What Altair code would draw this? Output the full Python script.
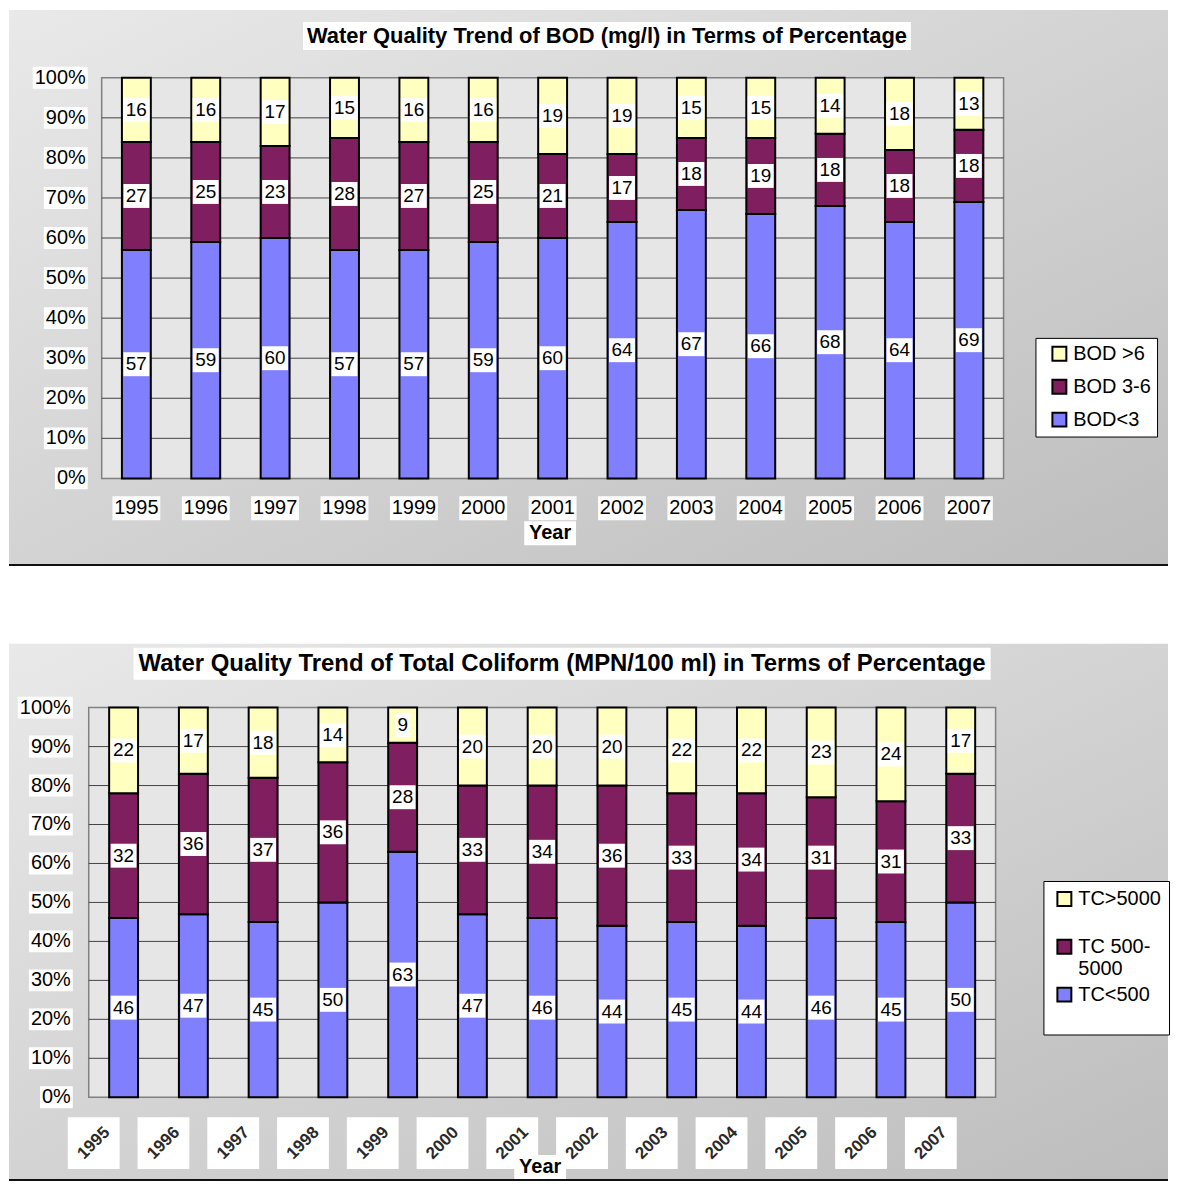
import altair as alt
import pandas as pd

# ---------------- data ----------------
years = ["1995", "1996", "1997", "1998", "1999", "2000", "2001",
         "2002", "2003", "2004", "2005", "2006", "2007"]

bod_series = ["BOD<3", "BOD 3-6", "BOD >6"]          # bottom -> top
bod_lt3 = [57, 59, 60, 57, 57, 59, 60, 64, 67, 66, 68, 64, 69]
bod_3_6 = [27, 25, 23, 28, 27, 25, 21, 17, 18, 19, 18, 18, 18]
bod_gt6 = [16, 16, 17, 15, 16, 16, 19, 19, 15, 15, 14, 18, 13]

tc_series = ["TC<500", "TC 500-5000", "TC>5000"]     # bottom -> top
tc_lt500 = [46, 47, 45, 50, 63, 47, 46, 44, 45, 44, 46, 45, 50]
tc_500_5000 = [32, 36, 37, 36, 28, 33, 34, 36, 33, 34, 31, 31, 33]
tc_gt5000 = [22, 17, 18, 14, 9, 20, 20, 20, 22, 22, 23, 24, 17]

y_ticks = [0, 10, 20, 30, 40, 50, 60, 70, 80, 90, 100]
y_tick_labels = ["0%", "10%", "20%", "30%", "40%", "50%", "60%", "70%", "80%", "90%", "100%"]

title_bod = "Water Quality Trend of BOD (mg/l) in Terms of Percentage"
title_tc = "Water Quality Trend of Total Coliform (MPN/100 ml) in Terms of Percentage"
x_title = "Year"

# ---------------- style ----------------
FONT = "Liberation Sans"
BLUE, MAROON, YELLOW = "#8080FF", "#7F1F5F", "#FFFFC0"
grad = alt.LinearGradient(
    gradient="linear",
    stops=[alt.GradientStop(color="#e9e9e9", offset=0),
           alt.GradientStop(color="#bdbdbd", offset=1)],
    x1=0, y1=0, x2=1, y2=1,
)


def long_table(series, arrays):
    rows = []
    for k, (name, vals) in enumerate(zip(series, arrays)):
        for i, (yr, v) in enumerate(zip(years, vals)):
            rows.append({"year": yr, "series": name, "value": v, "order": k, "i": i})
    df = pd.DataFrame(rows).sort_values(["i", "order"])
    df["top"] = df.groupby("year")["value"].cumsum()
    df["mid"] = df["top"] - df["value"] / 2
    return df


def box_path(half_w, half_h, dx=0):
    return (f"M{dx - half_w},{-half_h}L{dx + half_w},{-half_h}"
            f"L{dx + half_w},{half_h}L{dx - half_w},{half_h}Z")


def make_panel(df, series, title, x0, pw, h, c):
    """x0: left edge of plot area inside the view, pw: plot width"""
    w = x0 + pw
    one = pd.DataFrame({"t": [title]})
    onex = pd.DataFrame({"t": [x_title]})
    ticks = pd.DataFrame({"v": y_ticks, "label": y_tick_labels})
    grid = ticks[(ticks.v > 0) & (ticks.v < 100)]
    yrs = pd.DataFrame({"year": years})

    xsc = alt.Scale(domain=years, paddingInner=0, paddingOuter=0, range=[x0, w])
    ysc = alt.Scale(domain=[0, 100], nice=False)

    panel = alt.Chart(one).mark_rect(fill=grad).encode(
        x=alt.value(c["px0"]), x2=alt.value(c["px1"]),
        y=alt.value(c["py0"]), y2=alt.value(c["py1"]))
    border = alt.Chart(one).mark_rule(color="#111111", strokeWidth=2).encode(
        x=alt.value(c["px0"]), x2=alt.value(c["px1"]), y=alt.value(c["py1"]))
    plotfill = alt.Chart(one).mark_rect(fill="#e6e6e6", stroke="#808080", strokeWidth=1.5).encode(
        x=alt.value(x0), x2=alt.value(w), y=alt.value(0), y2=alt.value(h))

    gridl = alt.Chart(grid).mark_rule(color="#444444", strokeWidth=1).encode(
        x=alt.value(x0), x2=alt.value(w),
        y=alt.Y("v:Q", scale=ysc, axis=None))

    xaxis = alt.Axis(labels=False, title=None, ticks=True, tickBand="extent", tickSize=6,
                     tickColor="black", domainColor="black", domainWidth=1.5, grid=False, zindex=1)
    yaxis = alt.Axis(labels=False, title=None, ticks=True, tickSize=6, values=y_ticks,
                     tickColor="black", domainColor="black", domainWidth=1.5, grid=False, zindex=1,
                     offset=-x0)

    leg = alt.Legend(orient="none", legendX=c["lx"], legendY=c["ly"], title=None,
                     fillColor="white", strokeColor="black", padding=c["lpad"],
                     symbolType="square", symbolSize=196, symbolStrokeColor="black",
                     symbolStrokeWidth=2, symbolOpacity=1, symbolOffset=c["lsymoff"],
                     labelFont=FONT, labelFontSize=20, labelColor="black",
                     labelOffset=4, labelLimit=300, rowPadding=c["lrow"],
                     labelExpr=c["lexpr"])

    bars = alt.Chart(df).mark_bar(size=29, stroke="black", strokeWidth=2).encode(
        x=alt.X("year:O", scale=xsc, axis=xaxis),
        y=alt.Y("value:Q", stack="zero", scale=ysc, axis=yaxis),
        color=alt.Color("series:N",
                        scale=alt.Scale(domain=series[::-1], range=[YELLOW, MAROON, BLUE]),
                        legend=leg),
        order=alt.Order("order:Q", sort="ascending"),
    )

    lbox = alt.Chart(df).transform_calculate(
        hw="length(toString(datum.value)) * 5.5 + 2",
        path="'M' + (-datum.hw) + ',-12L' + datum.hw + ',-12L' + datum.hw + ',12L' + (-datum.hw) + ',12Z'",
    ).mark_point(filled=True, fill="white", opacity=1, strokeWidth=0, size=4).encode(
        x=alt.X("year:O", scale=xsc, axis=None),
        y=alt.Y("mid:Q", scale=ysc, axis=None),
        shape=alt.Shape("path:N", scale=None, legend=None),
    )
    ltext = alt.Chart(df).mark_text(font=FONT, fontSize=19, color="black", baseline="middle").encode(
        x=alt.X("year:O", scale=xsc, axis=None),
        y=alt.Y("mid:Q", scale=ysc, axis=None),
        text="value:Q",
    )

    ybox = alt.Chart(ticks).transform_calculate(
        lw="(length(datum.label) - 1) * 11.12 + 17.8 + 4",
        path="'M' + (-datum.lw) + ',-11L0,-11L0,11L' + (-datum.lw) + ',11Z'",
    ).mark_point(filled=True, fill="white", opacity=1, strokeWidth=0, size=4).encode(
        x=alt.value(x0 + c["ylx"]),
        y=alt.Y("v:Q", scale=ysc, axis=None),
        shape=alt.Shape("path:N", scale=None, legend=None),
    )
    ytext = alt.Chart(ticks).mark_text(font=FONT, fontSize=20, color="black", align="right",
                                       baseline="middle").encode(
        x=alt.value(x0 + c["ylx"] - 2),
        y=alt.Y("v:Q", scale=ysc, axis=None),
        text="label:N",
    )

    if c["rotated"]:
        xbox = alt.Chart(yrs).mark_point(filled=True, fill="white", opacity=1, strokeWidth=0, size=4,
                                         shape=box_path(26, 26, -30)).encode(
            x=alt.X("year:O", scale=xsc, axis=None), y=alt.value(h + 46))
        xtext = alt.Chart(yrs).mark_text(font=FONT, fontSize=17, fontWeight="bold", color="#2a2a2a",
                                         angle=315, dx=-21.2, dy=-21.2, baseline="middle").encode(
            x=alt.X("year:O", scale=xsc, axis=None), y=alt.value(h + 46), text="year:N")
    else:
        xbox = alt.Chart(yrs).mark_point(filled=True, fill="white", opacity=1, strokeWidth=0, size=4,
                                         shape=box_path(24, 12)).encode(
            x=alt.X("year:O", scale=xsc, axis=None), y=alt.value(h + 30))
        xtext = alt.Chart(yrs).mark_text(font=FONT, fontSize=20, color="black", baseline="middle").encode(
            x=alt.X("year:O", scale=xsc, axis=None), y=alt.value(h + 30), text="year:N")

    xtbox = alt.Chart(onex).mark_point(filled=True, fill="white", opacity=1, strokeWidth=0, size=4,
                                       shape=box_path(26, 12)).encode(
        x=alt.value(x0 + c["xtx"]), y=alt.value(h + c["xty"]))
    xttext = alt.Chart(onex).mark_text(font=FONT, fontSize=20, fontWeight="bold", color="black",
                                       baseline="middle").encode(
        x=alt.value(x0 + c["xtx"]), y=alt.value(h + c["xty"]), text="t:N")

    tbox = alt.Chart(one).mark_point(filled=True, fill="white", opacity=1, strokeWidth=0, size=4,
                                     shape=box_path(c["tbw"] / 2, c["tbh"] / 2)).encode(
        x=alt.value(x0 + c["tx"]), y=alt.value(c["ty"]))
    ttext = alt.Chart(one).mark_text(font=FONT, fontSize=c["tfs"], fontWeight="bold", color="black",
                                     baseline="middle").encode(
        x=alt.value(x0 + c["tx"]), y=alt.value(c["ty"]), text="t:N")

    return alt.layer(panel, border, plotfill, gridl, bars, lbox, ltext, ybox, ytext,
                     xbox, xtext, xtbox, xttext, tbox, ttext).properties(width=w, height=h)


bod_df = long_table(bod_series, [bod_lt3, bod_3_6, bod_gt6])
tc_df = long_table(tc_series, [tc_lt500, tc_500_5000, tc_gt5000])

# both views share origin at page x = 87; top plot area starts 13 px further right
top = make_panel(bod_df, bod_series, title_bod, 13, 905, 402, dict(
    px0=-80, px1=1083, py0=-68, py1=489,
    lx=950, ly=261, lpad=6, lsymoff=8, lrow=11, lexpr="datum.label",
    ylx=-14, rotated=False, xtx=450, xty=55,
    tx=507, ty=-42, tbw=610, tbh=28, tfs=22,
))

bottom = make_panel(tc_df, tc_series, title_tc, 0, 910, 391, dict(
    px0=-80, px1=1083, py0=-64, py1=474,
    lx=958, ly=174, lpad=8, lsymoff=3, lrow=5,
    lexpr="datum.label == 'TC 500-5000' ? ['TC 500-', '5000'] : [datum.label, '']",
    ylx=-16, rotated=True, xtx=453, xty=70,
    tx=475, ty=-44, tbw=860, tbh=32, tfs=24,
))

chart = alt.vconcat(top, bottom, spacing=78).resolve_scale(
    color="independent", x="independent", y="independent"
).properties(
    padding={"left": 0, "top": 0, "right": 0, "bottom": 0}, background="white"
).configure_view(stroke=None)

chart.save("out.html", embed_options={"renderer": "svg", "actions": False})
